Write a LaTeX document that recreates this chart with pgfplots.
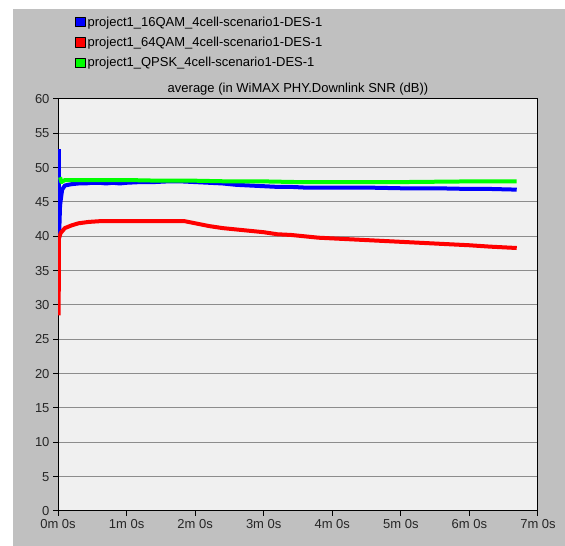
\documentclass[border=0pt]{standalone}
\usepackage{pgfplots}
\pgfplotsset{compat=1.18}
\usepackage{fontspec}
\setmainfont{Liberation Sans}
\definecolor{panel}{HTML}{C0C0C0}
\definecolor{plotbg}{HTML}{F0F0F0}
\definecolor{gridc}{HTML}{8C8C8C}
\definecolor{sblue}{HTML}{0000FF}
\definecolor{sred}{HTML}{FF0000}
\definecolor{sgreen}{HTML}{00FF00}
\begin{document}
\begin{tikzpicture}[x=1pt,y=1pt]
% page and grey panel
\fill[white] (0,0) rectangle (565,546);
\fill[panel] (13,0) rectangle (565,537);
\begin{axis}[
  at={(58pt,35pt)}, anchor=south west,
  scale only axis, width=480pt, height=412pt,
  xmin=0, xmax=7, ymin=0, ymax=60,
  xtick={0,1,2,3,4,5,6,7},
  xticklabels={0m 0s,1m 0s,2m 0s,3m 0s,4m 0s,5m 0s,6m 0s,7m 0s},
  ytick={0,5,...,60},
  tick align=outside, major tick length=5pt,
  xtick pos=bottom, ytick pos=left,
  ymajorgrids,
  grid style={gridc, line width=1pt},
  axis line style={black, line width=1pt},
  tick style={black, line width=1pt},
  axis background/.style={fill=plotbg},
  tick label style={font=\fontsize{13}{15}\selectfont, text=black!85},
  /pgf/number format/assume math mode=true,
  title={average (in WiMAX PHY.Downlink SNR (dB))},
  title style={font=\fontsize{13}{15}\selectfont, at={(0.5,1)}, anchor=south, yshift=-6pt},
  legend style={at={(0.035,1.205)}, anchor=north west, draw=none, fill=none,
    font=\fontsize{13}{15}\selectfont, row sep=5.5pt, inner sep=0pt},
  legend cell align=left,
  legend image code/.code={\filldraw[#1, line width=0.6pt, draw=black] (0pt,-4.5pt) rectangle (10pt,5pt);},
  every axis plot/.append style={line width=4pt, line join=round},
]
% 16QAM scenario
\addplot[sblue] coordinates {
(0.012,52.7) (0.015,39.7) (0.03,44.5) (0.06,46.8) (0.1,47.4) (0.2,47.6) (0.3,47.7)
(0.4,47.7) (0.5,47.8) (0.6,47.8) (0.7,47.7) (0.8,47.8) (0.9,47.7) (1.0,47.8)
(1.2,47.9) (1.4,47.9) (1.6,48.0) (1.8,48.0) (2.0,47.9) (2.2,47.8) (2.4,47.7)
(2.6,47.5) (2.8,47.4) (3.0,47.3) (3.2,47.2) (3.4,47.2) (3.6,47.1) (3.8,47.1)
(4.0,47.1) (4.5,47.1) (5.0,47.0) (5.5,47.0) (6.0,46.9) (6.3,46.9) (6.69,46.8)
};
\addlegendentry{project1\_16QAM\_4cell-scenario1-DES-1}
% 64QAM scenario
\addplot[sred] coordinates {
(0.01,28.5) (0.013,39.7) (0.04,40.5) (0.1,41.2) (0.2,41.6) (0.3,41.9) (0.45,42.1)
(0.6,42.2) (0.8,42.2) (1.0,42.2) (1.3,42.2) (1.6,42.2) (1.85,42.2) (2.0,41.9)
(2.2,41.5) (2.4,41.2) (2.6,41.0) (2.8,40.8) (3.0,40.6) (3.2,40.3) (3.4,40.2)
(3.6,40.0) (3.8,39.8) (4.0,39.7) (4.4,39.5) (4.8,39.3) (5.2,39.1) (5.6,38.9)
(6.0,38.7) (6.3,38.5) (6.69,38.3)
};
\addlegendentry{project1\_64QAM\_4cell-scenario1-DES-1}
% QPSK scenario
\addplot[sgreen] coordinates {
(0.03,48.6) (0.05,47.9) (0.1,48.2) (0.5,48.2) (1.0,48.2) (1.5,48.1) (2.0,48.1)
(2.5,48.0) (3.0,48.0) (3.5,47.9) (4.0,47.9) (5.0,47.9) (6.0,48.0) (6.69,48.0)
};
\addlegendentry{project1\_QPSK\_4cell-scenario1-DES-1}
\end{axis}
\end{tikzpicture}
\end{document}
